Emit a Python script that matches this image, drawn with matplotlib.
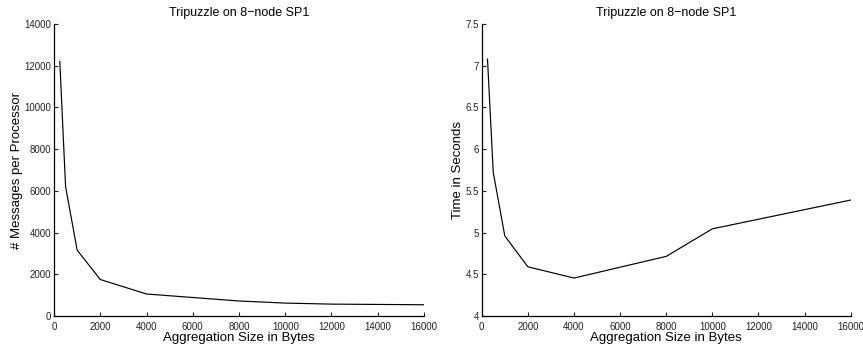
import matplotlib
matplotlib.use('Agg')
import matplotlib.pyplot as plt

plt.rcParams['font.family'] = ['Liberation Sans', 'DejaVu Sans']

# Aggregation sizes (bytes)
agg_size = [250, 500, 1000, 2000, 4000, 8000, 10000, 12000, 16000]
# Messages per processor
messages = [12200, 6200, 3160, 1750, 1055, 720, 620, 570, 540]
# Time in seconds
time_sec = [7.08, 5.72, 4.96, 4.59, 4.455, 4.715, 5.045, 5.16, 5.39]

title = 'Tripuzzle on 8\u2212node SP1'
xlabel = 'Aggregation Size in Bytes'

fig = plt.figure(figsize=(8.63, 3.47), dpi=100)
ax1 = fig.add_axes([0.0626, 0.0893, 0.4287, 0.8415])
ax2 = fig.add_axes([0.5582, 0.0893, 0.4276, 0.8415])


def style(ax):
    ax.spines['top'].set_visible(False)
    ax.spines['right'].set_visible(False)
    ax.spines['left'].set_linewidth(0.9)
    ax.spines['bottom'].set_linewidth(0.9)
    ax.tick_params(direction='in', length=3, width=0.8, labelsize=7, pad=2,
                   colors='#222222')
    ax.tick_params(axis='x', pad=4)
    ax.set_xlim(0, 16000)
    ax.set_xticks(range(0, 16001, 2000))
    ax.set_title(title, fontsize=9, pad=6)
    ax.set_xlabel(xlabel, fontsize=9.5, labelpad=0)
    for lab in ax.get_xticklabels():
        lab.set_clip_on(False)


ax1.plot(agg_size, messages, color='black', linewidth=0.85)
style(ax1)
ax1.set_ylim(0, 14000)
ax1.set_yticks(range(0, 14001, 2000))
ax1.set_ylabel('# Messages per Processor', fontsize=9.5, labelpad=1)

ax2.plot(agg_size, time_sec, color='black', linewidth=0.85)
style(ax2)
ax2.set_ylim(4, 7.5)
ax2.set_yticks([4, 4.5, 5, 5.5, 6, 6.5, 7, 7.5])
ax2.set_yticklabels(['4', '4.5', '5', '5.5', '6', '6.5', '7', '7.5'])
ax2.set_ylabel('Time in Seconds', fontsize=9.5, labelpad=1)

fig.savefig('out.png', dpi=100)
